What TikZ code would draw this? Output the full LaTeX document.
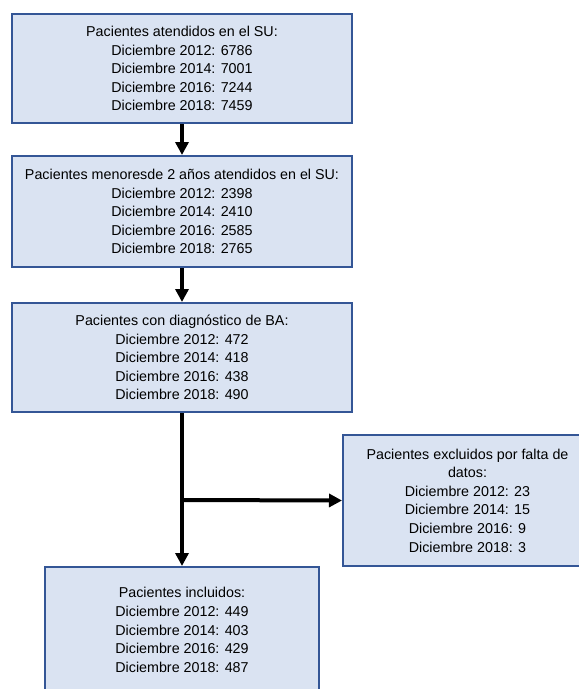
\documentclass[tikz,border=0pt]{standalone}
\usepackage{fontspec}
\setmainfont{Liberation Sans}
\usetikzlibrary{arrows.meta}
\definecolor{boxfill}{RGB}{218,227,242}
\definecolor{boxline}{RGB}{52,86,150}
\begin{document}
\begin{tikzpicture}[x=1pt,y=-1pt,
  flowbox/.style={draw=boxline,fill=boxfill,line width=2pt,rectangle,inner sep=0pt,
    align=center,font=\fontsize{14.3}{18.6}\selectfont,text=black},
  flowarrow/.style={line width=4pt,-{Triangle[length=13pt,width=13pt]}}]
\useasboundingbox (0,0) rectangle (579,689);
\clip (0,0) rectangle (579,689);
\node[flowbox,minimum width=340pt,minimum height=109pt] (b1) at (182,68.5)
  {Pacientes atendidos en el SU:\\Diciembre 2012: 6786\\Diciembre 2014: 7001\\Diciembre 2016: 7244\\Diciembre 2018: 7459};
\node[flowbox,minimum width=340pt,minimum height=111pt] (b2) at (182,211.5)
  {Pacientes menoresde 2 años atendidos en el SU:\\Diciembre 2012: 2398\\Diciembre 2014: 2410\\Diciembre 2016: 2585\\Diciembre 2018: 2765};
\node[flowbox,minimum width=340pt,minimum height=109pt] (b3) at (182,357.5)
  {Pacientes con diagnóstico de BA:\\Diciembre 2012: 472\\Diciembre 2014: 418\\Diciembre 2016: 438\\Diciembre 2018: 490};
\node[flowbox,minimum width=249pt,minimum height=131pt] (b5) at (467.5,500.5)
  {Pacientes excluidos por falta de\\datos:\\Diciembre 2012: 23\\Diciembre 2014: 15\\Diciembre 2016: 9\\Diciembre 2018: 3};
\node[flowbox,minimum width=274pt,minimum height=126pt] (b4) at (182,630)
  {Pacientes incluidos:\\Diciembre 2012: 449\\Diciembre 2014: 403\\Diciembre 2016: 429\\Diciembre 2018: 487};
\coordinate (j) at (182,500);
\draw[flowarrow] (b1.south) -- (b2.north);
\draw[flowarrow] (b2.south) -- (b3.north);
\draw[flowarrow] (b3.south) -- (b4.north);
\draw[flowarrow] (j) -- (b5.west);
\end{tikzpicture}
\end{document}
